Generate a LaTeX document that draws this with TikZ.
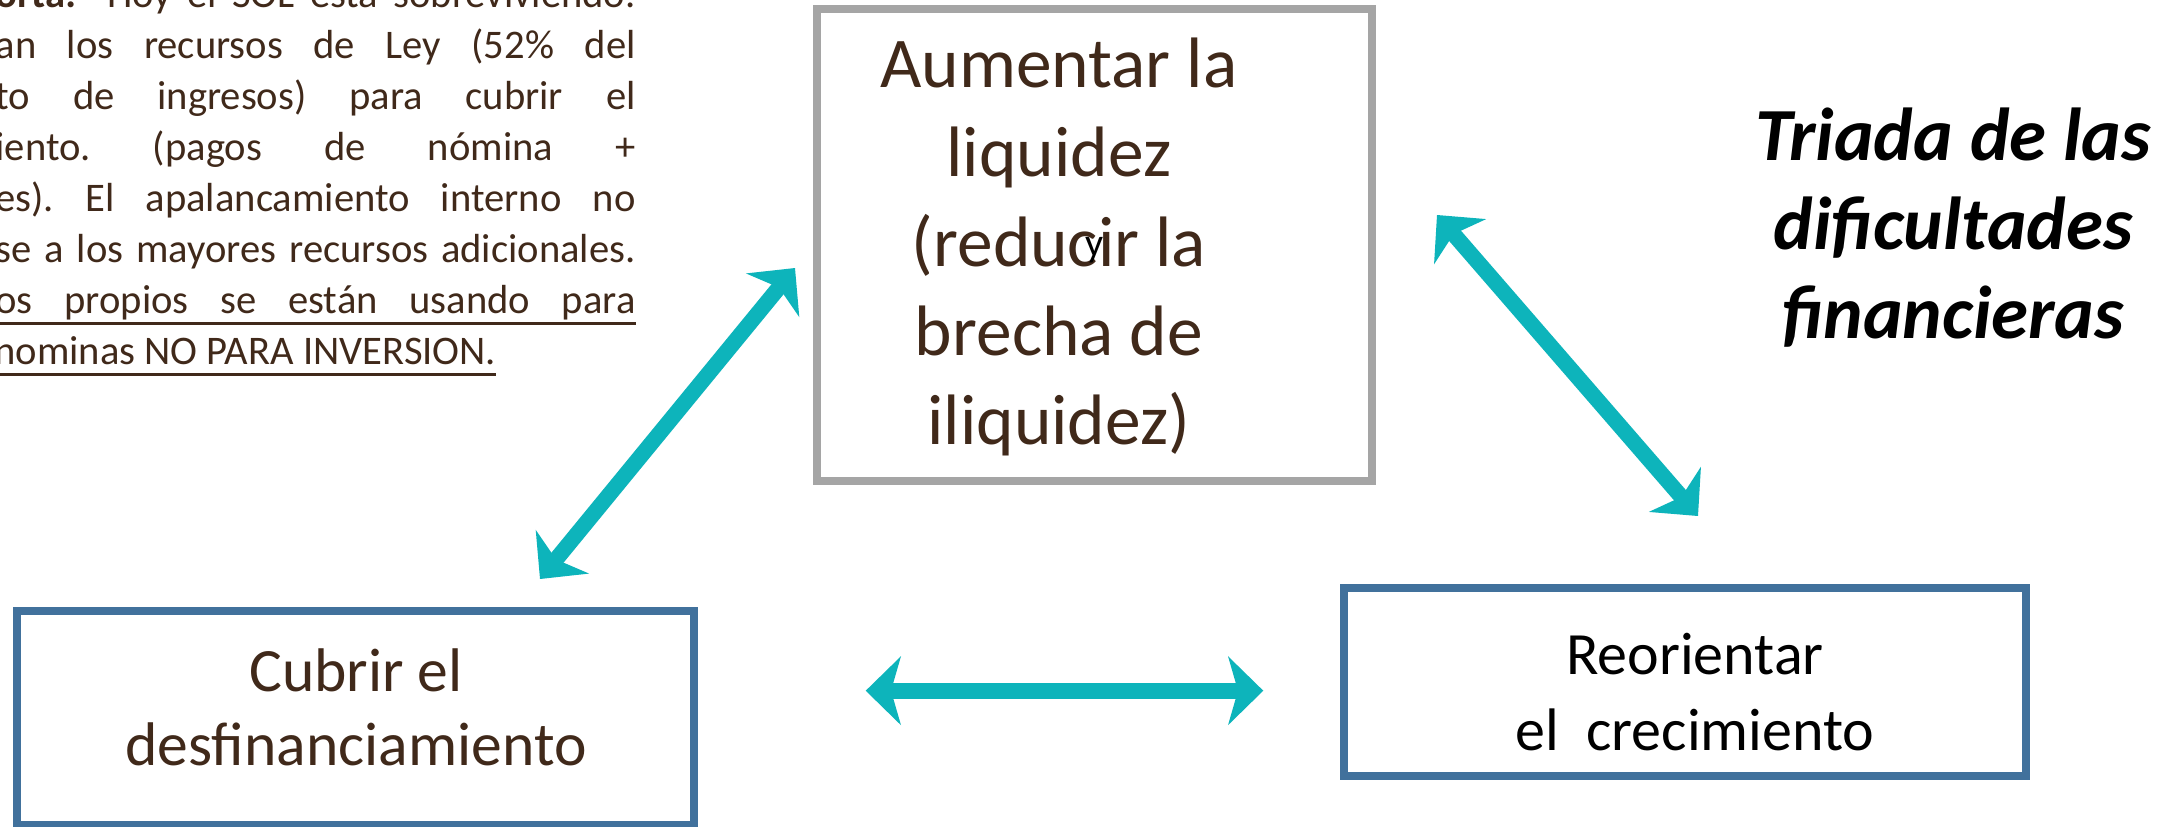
\documentclass[tikz,border=0pt]{standalone}
\usepackage{fontspec}
\setmainfont{Carlito}
\usetikzlibrary{arrows.meta}
\definecolor{brn}{HTML}{40291A}
\definecolor{tealA}{HTML}{0DB4BB}
\definecolor{grayB}{HTML}{A5A5A5}
\definecolor{blueB}{HTML}{41719C}
\newsavebox{\ulbox}
\newcommand{\myul}[1]{\sbox{\ulbox}{#1}\rlap{\rule[-5.6pt]{\wd\ulbox}{1.5pt}}\usebox{\ulbox}}
\frenchspacing
\begin{document}
\begin{tikzpicture}[x=0.5pt,y=-0.5pt,
  pline/.style={anchor=mid east, inner sep=0, text=brn, font=\fontsize{20.3}{24}\selectfont\frenchspacing},
  graybox/.style={draw=grayB, line width=4pt, inner sep=0, rectangle},
  bluebox/.style={draw=blueB, line width=4pt, inner sep=0, rectangle},
  dbl/.style={draw=tealA, line width=7.85pt,
    {Stealth[length=17.5pt,width=34pt,inset=4.85pt]}-{Stealth[length=17.5pt,width=34pt,inset=4.85pt]}}]
\path[use as bounding box] (0,0) rectangle (2181,826);
\clip (0,0) rectangle (2181,826);
\fill[white] (0,0) rectangle (2181,826);

% left paragraph (cut off at the left)
\node[pline] (p1) at (636,3) {\makebox[320pt][s]{\textbf{orta:}\ \ Hoy el SOL está sobreviviendo.}};
\node[pline] (p2) at (636,54) {\makebox[320pt][s]{an los recursos de Ley (52\% del}};
\node[pline] (p3) at (636,105) {\makebox[320pt][s]{to de ingresos) para cubrir el}};
\node[pline] (p4) at (636,156) {\makebox[320pt][s]{iento. (pagos de nómina +}};
\node[pline] (p5) at (636,207) {\makebox[320pt][s]{es). El apalancamiento interno no}};
\node[pline] (p6) at (636,258) {\makebox[320pt][s]{se a los mayores recursos adicionales.}};
\node[pline] (p7) at (636,309) {\myul{\makebox[320pt][s]{os propios se están usando para}}};
\node[pline, anchor=mid west] (p8) at (-6,360) {\myul{nominas NO PARA INVERSION.}};

% boxes
\node[graybox, minimum width=277.6pt, minimum height=236pt] (liq) at (1094.1,245) {};
\node[bluebox, minimum width=338.75pt, minimum height=107.15pt] (cub) at (355.25,717.85) {};
\node[bluebox, minimum width=341.15pt, minimum height=94.15pt] (reo) at (1685.15,682.15) {};

% box texts
\node[align=center, text=brn, inner sep=0, font=\fontsize{35.7}{44.7}\selectfont] (liqt) at (1059,247)
  {Aumentar la\\liquidez\\(reducir la\\brecha de\\iliquidez)};
\node[inner sep=0, font=\fontsize{20}{20}\selectfont] (yy) at (1095,250) {y};
\node[align=center, text=brn, inner sep=0, font=\fontsize{30.8}{37}\selectfont] (cubt) at (356,707)
  {Cubrir el\\desfinanciamiento};
\node[align=center, text=black, inner sep=0, font=\fontsize{30}{38}\selectfont] (reot) at (1695,692)
  {Reorientar\\el\ \ crecimiento};

% title
\node[align=center, inner sep=0, font=\fontsize{37.5}{44.5}\selectfont\bfseries\itshape] (title) at (1953,228)
  {Triada de las\\dificultades\\financieras};

% arrows
\coordinate (a1) at (540,579);
\coordinate (a2) at (795,268);
\coordinate (b1) at (1437,215);
\coordinate (b2) at (1698,516);
\coordinate (c1) at (865.7,690.7);
\coordinate (c2) at (1263.3,690.7);
\draw[dbl] (a1) -- (a2);
\draw[dbl] (b1) -- (b2);
\draw[dbl] (c1) -- (c2);
\end{tikzpicture}
\end{document}
